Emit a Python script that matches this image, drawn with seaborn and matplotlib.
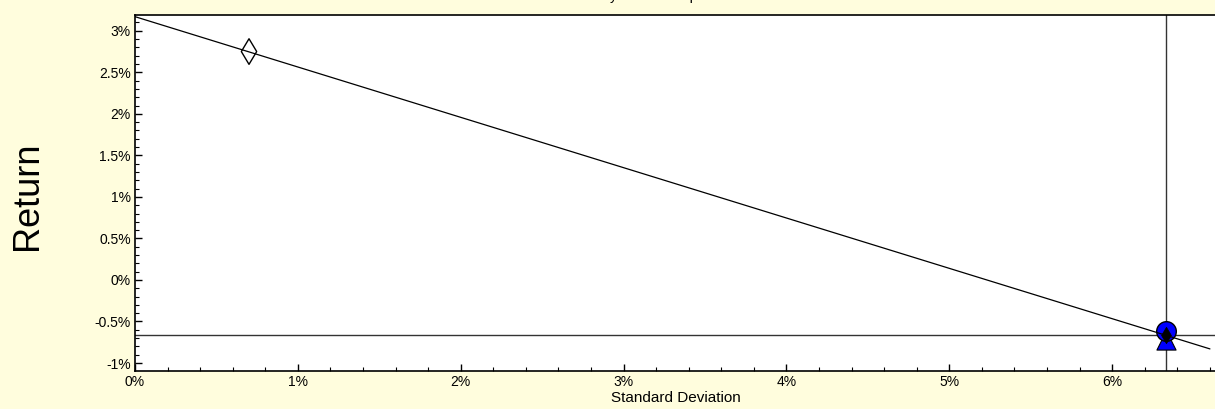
import matplotlib
matplotlib.use("Agg")
import matplotlib.pyplot as plt
import matplotlib.ticker as mticker
import pandas as pd
import seaborn as sns

# capital market line (std dev %, return %)
line_x = [0.0, 6.6]
line_y = [3.17, -0.83]

# market portfolio crosshair
market_sd = 6.33
market_ret = -0.666

# points
asset_sd = [0.70]
asset_ret = [2.75]
circle_sd = [6.33]
circle_ret = [-0.62]
tri_sd = [6.33]
tri_ret = [-0.72]
dia_sd = [6.33]
dia_ret = [-0.66]

title = "Risk / Return by Asset Group"

sns.set_style("ticks")
plt.rcParams['font.family'] = ['Liberation Sans', 'DejaVu Sans']
plt.rcParams['axes.unicode_minus'] = False
plt.rcParams['text.color'] = 'black'
plt.rcParams['axes.labelcolor'] = 'black'
plt.rcParams['xtick.color'] = 'black'
plt.rcParams['ytick.color'] = 'black'

bg = '#FFFDDD'
fig = plt.figure(figsize=(12.15, 4.09), dpi=100, facecolor=bg)
ax = fig.add_axes([135/1215, 1 - 371/409, 1 - 135/1215 + 0.002, (371 - 15)/409])
ax.set_facecolor('white')

df_line = pd.DataFrame({"sd": line_x, "ret": line_y})
sns.lineplot(data=df_line, x="sd", y="ret", ax=ax, color='black', linewidth=0.9, zorder=6)

ax.axhline(market_ret, color='#333333', linewidth=1)
ax.axvline(market_sd, color='#333333', linewidth=1)

sns.scatterplot(x=asset_sd, y=asset_ret, ax=ax, marker='d', s=170,
                facecolor='none', edgecolor='black', linewidth=1, zorder=5)
sns.scatterplot(x=tri_sd, y=tri_ret, ax=ax, marker='^', s=190,
                color='#0000FF', edgecolor='black', linewidth=0.8, zorder=4)
sns.scatterplot(x=circle_sd, y=circle_ret, ax=ax, marker='o', s=200,
                color='#0000FF', edgecolor='black', linewidth=1, zorder=5)
sns.scatterplot(x=dia_sd, y=dia_ret, ax=ax, marker='d', s=70,
                color='black', edgecolor='black', linewidth=0.5, zorder=7)

ax.set_xlim(0, 6.646)
ax.set_ylim(-1.096, 3.19)

pct = mticker.FuncFormatter(lambda v, p: '{:g}%'.format(round(v, 2)))
ax.xaxis.set_major_locator(mticker.MultipleLocator(1))
ax.xaxis.set_minor_locator(mticker.MultipleLocator(0.2))
ax.yaxis.set_major_locator(mticker.MultipleLocator(0.5))
ax.yaxis.set_minor_locator(mticker.MultipleLocator(0.1))
ax.xaxis.set_major_formatter(pct)
ax.yaxis.set_major_formatter(pct)
ax.tick_params(which='major', direction='in', length=5, width=1, labelsize=10, pad=3)
ax.tick_params(which='minor', direction='in', length=3, width=0.8)

for s in ['top', 'left', 'bottom']:
    ax.spines[s].set_color('black')
    ax.spines[s].set_linewidth(1.2)
ax.spines['right'].set_visible(False)

ax.set_xlabel("Standard Deviation", fontsize=11, labelpad=1)
ax.set_ylabel("")
fig.text(27/1215, 1 - 196/409, "Return", rotation=90, fontsize=26,
         ha='center', va='center')
# title sits above the canvas edge, only its descenders show
fig.text(0.5, 1.0, title, fontsize=10, ha='center', va='baseline')

fig.savefig("out.png", dpi=100, facecolor=bg)
